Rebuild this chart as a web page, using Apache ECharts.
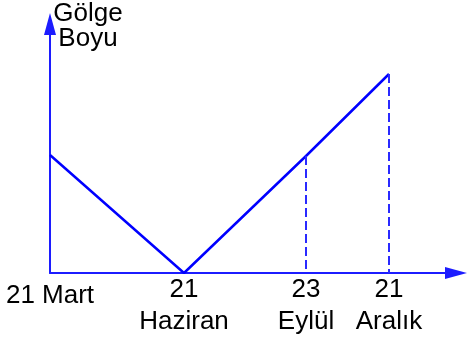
<!DOCTYPE html>
<html>
<head>
<meta charset="utf-8">
<script src="https://cdn.jsdelivr.net/npm/echarts@6/dist/echarts.min.js"></script>
<style>
  html, body { margin: 0; padding: 0; background: #fff; }
  #container { width: 467px; height: 339px; }
</style>
</head>
<body>
<div id="container"></div>
<script type="text/javascript">
// positions along the year (arbitrary units) and shadow length
var xPos = [0, 134, 256, 339];
var shadow = [118, 0, 117, 199];
var tickLabels = ['21 Mart', '21\nHaziran', '23\nEylül', '21\nAralık'];
var dashedIdx = [2, 3];

var dom = document.getElementById('container');
var myChart = echarts.init(dom);

var points = [];
for (var i = 0; i < xPos.length; i++) {
    points.push([xPos[i], shadow[i]]);
}
var dashData = [];
for (var j = 0; j < dashedIdx.length; j++) {
    var k = dashedIdx[j];
    dashData.push([{coord: [xPos[k], shadow[k]]}, {coord: [xPos[k], 0]}]);
}

var axisBlue = '#1c1cff';
var option = {
    animation: false,
    textStyle: {fontFamily: 'Liberation Sans, Arial, sans-serif'},
    title: {
        text: 'Gölge\nBoyu',
        left: 88,
        top: 1,
        padding: 0,
        textAlign: 'center',
        textStyle: {fontSize: 26, lineHeight: 25, fontWeight: 'normal', color: '#000',
            fontFamily: 'Liberation Sans, Arial, sans-serif'}
    },
    grid: {left: 50, right: 11, top: 24, bottom: 66},
    xAxis: {
        type: 'value',
        min: 0,
        max: 406,
        splitLine: {show: false},
        axisTick: {show: false},
        axisLine: {
            onZero: false,
            symbol: ['none', 'triangle'],
            symbolSize: [12, 22],
            lineStyle: {color: axisBlue, width: 2}
        },
        axisLabel: {
            customValues: xPos,
            margin: 1,
            color: '#000',
            fontSize: 26,
            lineHeight: 32,
            formatter: function (v) {
                var idx = xPos.indexOf(v);
                if (idx === 0) return '{m|' + tickLabels[0] + '}';
                return idx >= 0 ? tickLabels[idx] : '';
            },
            rich: {
                m: {fontSize: 26, lineHeight: 44, color: '#000'}
            }
        }
    },
    yAxis: {
        type: 'value',
        min: 0,
        max: 249,
        splitLine: {show: false},
        axisTick: {show: false},
        axisLabel: {show: false},
        axisLine: {
            onZero: false,
            symbol: ['none', 'triangle'],
            symbolSize: [12, 22],
            lineStyle: {color: axisBlue, width: 2}
        }
    },
    series: [{
        type: 'line',
        data: points,
        symbol: 'none',
        lineStyle: {color: '#0000ff', width: 2.5},
        markLine: {
            silent: true,
            symbol: ['none', 'none'],
            label: {show: false},
            lineStyle: {color: '#2a2aff', width: 2, type: [9, 4]},
            data: dashData
        }
    }]
};
myChart.setOption(option, true);
</script>
</body>
</html>
